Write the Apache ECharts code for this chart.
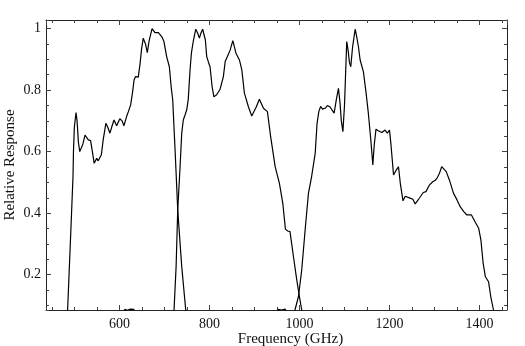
<!DOCTYPE html>
<html>
<head>
<meta charset="utf-8">
<script src="https://cdn.jsdelivr.net/npm/echarts@6/dist/echarts.min.js"></script>
<style>
  html, body { margin: 0; padding: 0; background: #fff; }
  #chart-container { width: 525px; height: 346px; }
</style>
</head>
<body>
<div id="chart-container"></div>
<script>
// band 1 (low band)
var band1Freq = [484, 485, 491, 497, 498, 500, 503.7, 506, 509, 512, 515, 519, 523.7, 527, 531, 536, 540, 544, 549.6, 553, 557, 560, 564, 570, 574, 579, 583, 588, 594, 601, 606, 610, 616, 620, 625, 629, 632.6, 636, 642, 646, 649, 653, 658, 662, 666, 672.6, 679, 686.6, 694, 699, 705, 711, 715, 718.5, 720, 723.7, 729.6, 738.5, 747.4, 750];
var band1Resp = [0.06, 0.085, 0.30, 0.52, 0.60, 0.68, 0.727, 0.70, 0.63, 0.60, 0.595, 0.625, 0.654, 0.648, 0.638, 0.636, 0.60, 0.562, 0.578, 0.57, 0.564, 0.59, 0.638, 0.692, 0.68, 0.66, 0.68, 0.703, 0.684, 0.707, 0.70, 0.684, 0.714, 0.73, 0.752, 0.79, 0.833, 0.844, 0.842, 0.887, 0.93, 0.969, 0.95, 0.922, 0.96, 1.0, 0.987, 0.987, 0.974, 0.958, 0.909, 0.876, 0.811, 0.768, 0.72, 0.606, 0.41, 0.226, 0.085, 0.05];

// band 2 (middle band)
var band2Freq = [600, 612, 618, 625, 632, 640, 700, 721.4, 726, 729.6, 734.8, 738.5, 742, 746, 749.6, 753, 757, 760, 764, 769.6, 774, 777.7, 781, 785, 788, 791, 794, 798, 801.4, 806, 810, 816, 823.7, 831, 835, 840, 846, 852, 859, 866.6, 872, 877.7, 886.6, 894, 898, 904, 911, 915, 920, 928.8, 936, 946, 955.5, 963, 968.8, 974, 979, 986.6, 994, 1000, 1005, 1010];
var band2Resp = [0.05, 0.087, 0.084, 0.088, 0.087, 0.05, 0.03, 0.085, 0.226, 0.41, 0.551, 0.66, 0.703, 0.72, 0.736, 0.77, 0.866, 0.92, 0.958, 0.998, 0.985, 0.969, 0.985, 0.998, 0.98, 0.963, 0.909, 0.89, 0.876, 0.811, 0.778, 0.785, 0.803, 0.844, 0.893, 0.909, 0.93, 0.961, 0.92, 0.898, 0.866, 0.79, 0.746, 0.716, 0.72, 0.745, 0.77, 0.765, 0.741, 0.73, 0.649, 0.551, 0.497, 0.432, 0.348, 0.342, 0.34, 0.259, 0.183, 0.128, 0.085, 0.05];

// band 3 (high band)
var band3Freq = [940, 953, 960, 968, 976, 985, 990, 997.7, 1005, 1012.6, 1020, 1027, 1035, 1039, 1043, 1047, 1051, 1054.8, 1058, 1062, 1068, 1072, 1077, 1082, 1086.6, 1090, 1093, 1096.5, 1100, 1105, 1108, 1111, 1114, 1118, 1123.7, 1127, 1131, 1134.8, 1142, 1148, 1153, 1158.5, 1163, 1166, 1170, 1175, 1179, 1183, 1187, 1190, 1195, 1200, 1203, 1209, 1215, 1220, 1224, 1230, 1235, 1239, 1247, 1252, 1257, 1262, 1267, 1275, 1281, 1289, 1296, 1301, 1306, 1311, 1316, 1321, 1326, 1333, 1342, 1350, 1357, 1365, 1372, 1382, 1390, 1398, 1403, 1408, 1413, 1420, 1425, 1431, 1435];
var band3Resp = [0.05, 0.087, 0.085, 0.088, 0.07, 0.06, 0.085, 0.128, 0.215, 0.345, 0.465, 0.519, 0.595, 0.69, 0.73, 0.747, 0.738, 0.733, 0.742, 0.75, 0.745, 0.74, 0.725, 0.77, 0.806, 0.76, 0.70, 0.665, 0.75, 0.958, 0.93, 0.89, 0.876, 0.94, 0.998, 0.975, 0.941, 0.898, 0.86, 0.79, 0.725, 0.638, 0.557, 0.62, 0.673, 0.668, 0.668, 0.662, 0.66, 0.67, 0.66, 0.67, 0.627, 0.524, 0.54, 0.551, 0.497, 0.44, 0.455, 0.459, 0.448, 0.445, 0.43, 0.44, 0.45, 0.467, 0.47, 0.492, 0.502, 0.506, 0.515, 0.53, 0.551, 0.543, 0.535, 0.508, 0.465, 0.443, 0.421, 0.405, 0.394, 0.394, 0.372, 0.351, 0.313, 0.237, 0.193, 0.177, 0.128, 0.085, 0.05];

var xMin = 437, xMax = 1461;
var yMin = 0.085, yMax = 1.028;
var xMajor = 200, xMinor = 50;
var yMajor = 0.2, yMinor = 0.05;

var font = 'Liberation Serif';

function zip(xs, ys) {
  var out = [];
  for (var i = 0; i < xs.length; i++) out.push([xs[i], ys[i]]);
  return out;
}

function onStep(v, step) {
  var r = v / step;
  return Math.abs(r - Math.round(r)) < 1e-6;
}

// one axis per tick level and side, so the ticks sit on round values
function makeAxis(pos, min, max, step, len, withLine, labels) {
  return {
    type: 'value',
    position: pos,
    min: min,
    max: max,
    minInterval: step,
    maxInterval: step,
    splitLine: { show: false },
    axisLine: { show: withLine, onZero: false, lineStyle: { color: '#222', width: 1 } },
    axisTick: { show: true, inside: true, length: len, lineStyle: { color: '#444', width: 1 } },
    axisLabel: {
      show: labels,
      showMinLabel: false,
      showMaxLabel: false,
      color: '#111',
      fontFamily: font,
      fontSize: 14,
      margin: (pos === 'bottom' || pos === 'top') ? 7 : 5,
      formatter: function (v) { return onStep(v, step) ? String(+v.toFixed(2)) : ''; }
    }
  };
}

var xAxes = [
  makeAxis('bottom', xMin, xMax, xMajor, 5, true, true),
  makeAxis('bottom', xMin, xMax, xMinor, 3, false, false),
  makeAxis('top', xMin, xMax, xMajor, 5, true, false),
  makeAxis('top', xMin, xMax, xMinor, 3, false, false)
];
xAxes[0].name = 'Frequency (GHz)';
xAxes[0].nameLocation = 'middle';
xAxes[0].nameGap = 22;
xAxes[0].nameMoveOverlap = false;
xAxes[0].nameTextStyle = { fontFamily: font, fontSize: 15, color: '#111', padding: [0, 0, 0, 28] };

var yAxes = [
  makeAxis('left', yMin, yMax, yMajor, 5, true, true),
  makeAxis('left', yMin, yMax, yMinor, 3, false, false),
  makeAxis('right', yMin, yMax, yMajor, 5, true, false),
  makeAxis('right', yMin, yMax, yMinor, 3, false, false)
];
yAxes[0].name = 'Relative Response';
yAxes[0].nameLocation = 'middle';
yAxes[0].nameGap = 28;
yAxes[0].nameMoveOverlap = false;
yAxes[0].nameTextStyle = { fontFamily: font, fontSize: 15, color: '#111' };

function band(data) {
  return {
    type: 'line',
    xAxisIndex: 0,
    yAxisIndex: 0,
    data: data,
    showSymbol: false,
    symbol: 'none',
    clip: true,
    lineStyle: { color: '#000', width: 1.2 }
  };
}

var dom = document.getElementById('chart-container');
var myChart = echarts.init(dom, null, { renderer: 'canvas' });

var option = {
  animation: false,
  backgroundColor: '#fff',
  grid: { left: 46, right: 18, top: 20, bottom: 36, containLabel: false, outerBoundsMode: 'none' },
  xAxis: xAxes,
  yAxis: yAxes,
  series: [
    band(zip(band1Freq, band1Resp)),
    band(zip(band2Freq, band2Resp)),
    band(zip(band3Freq, band3Resp))
  ]
};

myChart.setOption(option);
window.addEventListener('resize', myChart.resize);
</script>
</body>
</html>
